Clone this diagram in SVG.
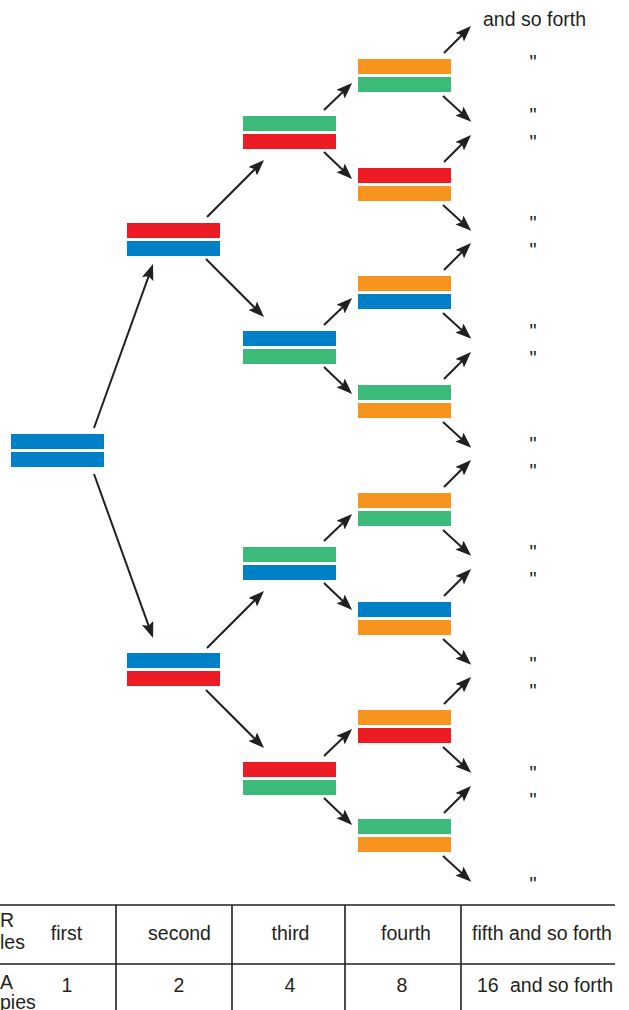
<svg xmlns="http://www.w3.org/2000/svg" width="629" height="1010" viewBox="0 0 629 1010">
<style>
.b{fill:#0080C6}.r{fill:#ED1C24}.g{fill:#3CBA7A}.o{fill:#F7941D}
.c line{stroke:#231F20;stroke-width:2;marker-end:url(#ah)}
text{font-family:"Liberation Sans",Arial,Helvetica,sans-serif;font-size:19.5px;fill:#231F20}
.q{font-size:20px;text-anchor:middle}
.m{text-anchor:middle}
.t line{stroke:#231F20;stroke-width:1.6}
</style>
<defs>
<marker id="ah" markerUnits="userSpaceOnUse" markerWidth="18" markerHeight="14" refX="10" refY="6" orient="auto">
<path d="M0,0 L16,6 L0,12 L3,6 Z" fill="#231F20"/>
</marker>
</defs>
<rect width="629" height="1010" fill="#fff"/>
<g class="c" id="connectors">
<line x1="94" y1="428" x2="151" y2="269.6"/>
<line x1="94" y1="474" x2="151" y2="632.4"/>
<line x1="207" y1="217" x2="259.8" y2="164.2"/>
<line x1="206" y1="259" x2="259.8" y2="312.8"/>
<line x1="207" y1="648" x2="259.8" y2="595.2"/>
<line x1="206" y1="690" x2="259.8" y2="743.8"/>
<line x1="324" y1="110" x2="347.8" y2="87.2"/>
<line x1="324" y1="152" x2="347.8" y2="174.8"/>
<line x1="324" y1="325" x2="347.8" y2="302.2"/>
<line x1="324" y1="367" x2="347.8" y2="389.8"/>
<line x1="324" y1="541" x2="347.8" y2="518.2"/>
<line x1="324" y1="583" x2="347.8" y2="605.8"/>
<line x1="324" y1="756" x2="347.8" y2="733.2"/>
<line x1="324" y1="798" x2="347.8" y2="820.8"/>
<line x1="444" y1="53" x2="466.8" y2="30.2"/>
<line x1="443" y1="96" x2="466.8" y2="117.8"/>
<line x1="444" y1="162" x2="466.8" y2="139.2"/>
<line x1="443" y1="205" x2="466.8" y2="226.8"/>
<line x1="444" y1="270" x2="466.8" y2="247.2"/>
<line x1="443" y1="313" x2="466.8" y2="334.8"/>
<line x1="444" y1="379" x2="466.8" y2="356.2"/>
<line x1="443" y1="422" x2="466.8" y2="443.8"/>
<line x1="444" y1="487" x2="466.8" y2="464.2"/>
<line x1="443" y1="530" x2="466.8" y2="551.8"/>
<line x1="444" y1="596" x2="466.8" y2="573.2"/>
<line x1="443" y1="639" x2="466.8" y2="660.8"/>
<line x1="444" y1="704" x2="466.8" y2="681.2"/>
<line x1="443" y1="747" x2="466.8" y2="768.8"/>
<line x1="444" y1="813" x2="466.8" y2="790.2"/>
<line x1="443" y1="856" x2="466.8" y2="877.8"/>
</g>
<g id="n0"><rect class="b" x="11" y="434" width="93" height="15"/><rect class="b" x="11" y="452" width="93" height="15"/></g>
<g id="n1a"><rect class="r" x="127" y="223" width="93" height="15"/><rect class="b" x="127" y="241" width="93" height="15"/></g>
<g id="n1b"><rect class="b" x="127" y="653" width="93" height="15"/><rect class="r" x="127" y="671" width="93" height="15"/></g>
<g id="n2a"><rect class="g" x="243" y="116" width="93" height="15"/><rect class="r" x="243" y="134" width="93" height="15"/></g>
<g id="n2b"><rect class="b" x="243" y="331" width="93" height="15"/><rect class="g" x="243" y="349" width="93" height="15"/></g>
<g id="n2c"><rect class="g" x="243" y="547" width="93" height="15"/><rect class="b" x="243" y="565" width="93" height="15"/></g>
<g id="n2d"><rect class="r" x="243" y="762" width="93" height="15"/><rect class="g" x="243" y="780" width="93" height="15"/></g>
<g id="n3a"><rect class="o" x="358" y="59" width="93" height="15"/><rect class="g" x="358" y="77" width="93" height="15"/></g>
<g id="n3b"><rect class="r" x="358" y="168" width="93" height="15"/><rect class="o" x="358" y="186" width="93" height="15"/></g>
<g id="n3c"><rect class="o" x="358" y="276" width="93" height="15"/><rect class="b" x="358" y="294" width="93" height="15"/></g>
<g id="n3d"><rect class="g" x="358" y="385" width="93" height="15"/><rect class="o" x="358" y="403" width="93" height="15"/></g>
<g id="n3e"><rect class="o" x="358" y="493" width="93" height="15"/><rect class="g" x="358" y="511" width="93" height="15"/></g>
<g id="n3f"><rect class="b" x="358" y="602" width="93" height="15"/><rect class="o" x="358" y="620" width="93" height="15"/></g>
<g id="n3g"><rect class="o" x="358" y="710" width="93" height="15"/><rect class="r" x="358" y="728" width="93" height="15"/></g>
<g id="n3h"><rect class="g" x="358" y="819" width="93" height="15"/><rect class="o" x="358" y="837" width="93" height="15"/></g>
<g id="labels">
<text x="483" y="26">and so forth</text>
<text class="q" x="533" y="69">"</text>
<text class="q" x="533" y="122">"</text>
<text class="q" x="533" y="149">"</text>
<text class="q" x="533" y="230">"</text>
<text class="q" x="533" y="257">"</text>
<text class="q" x="533" y="338">"</text>
<text class="q" x="533" y="365">"</text>
<text class="q" x="533" y="451">"</text>
<text class="q" x="533" y="478">"</text>
<text class="q" x="533" y="559">"</text>
<text class="q" x="533" y="586">"</text>
<text class="q" x="533" y="671">"</text>
<text class="q" x="533" y="698">"</text>
<text class="q" x="533" y="780">"</text>
<text class="q" x="533" y="807">"</text>
<text class="q" x="533" y="891">"</text>
</g>
<g id="table" class="t">
<line x1="0" y1="905" x2="615" y2="905"/>
<line x1="0" y1="964" x2="615" y2="964" stroke-width="2"/>
<line x1="116" y1="905" x2="116" y2="1010"/>
<line x1="232" y1="905" x2="232" y2="1010"/>
<line x1="345" y1="905" x2="345" y2="1010"/>
<line x1="461" y1="905" x2="461" y2="1010"/>
<text x="0" y="927">R</text>
<text x="0" y="949">les</text>
<text x="0" y="989">A</text>
<text x="0" y="1009">pies</text>
<text class="m" x="66.5" y="940">first</text>
<text class="m" x="179.5" y="940">second</text>
<text class="m" x="290.5" y="940">third</text>
<text class="m" x="406" y="940">fourth</text>
<text class="m" x="542" y="940">fifth and so forth</text>
<text class="m" x="67" y="992">1</text>
<text class="m" x="179" y="992">2</text>
<text class="m" x="290" y="992">4</text>
<text class="m" x="402" y="992">8</text>
<text x="477" y="992">16<tspan x="510">and so forth</tspan></text>
</g>
</svg>
